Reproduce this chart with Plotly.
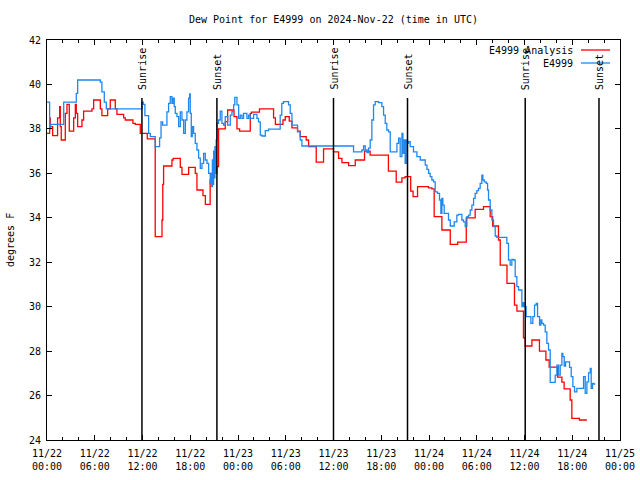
import pandas as pd
import plotly.graph_objects as go

base = pd.Timestamp("2024-11-22 00:00")

# Analysis (red) - hours since 11/22 00:00 UTC and dew point (F)
red_hours = [0.00,0.33,0.41,0.71,1.33,1.59,1.67,1.79,2.30,2.51,2.80,3.35,3.56,3.68,3.85,4.39,4.60,5.65,5.86,6.70,
             6.90,7.62,7.95,8.58,8.79,9.63,9.84,10.80,11.09,11.72,12.60,13.60,14.45,14.55,14.65,15.70,15.85,16.75,16.96,17.80,
             18.63,18.84,19.60,19.90,20.50,20.60,21.35,21.56,22.40,22.70,23.50,23.87,24.20,25.54,25.70,26.70,28.47,28.70,29.65,29.94,
             30.44,30.78,31.48,31.82,32.57,32.87,33.83,34.75,36.00,36.64,37.06,37.90,38.73,39.90,40.60,42.90,43.88,44.60,45.00,45.70,
             46.00,46.56,47.94,48.36,48.65,49.62,50.67,51.60,52.68,53.80,54.85,55.69,56.00,56.73,56.95,57.80,58.74,59.05,59.87,60.09,
             60.93,61.88,62.69,63.10,64.15,64.70,64.98,65.74,65.95,66.90,67.84]
red_values = [37.8,38.5,38.1,37.7,38.5,39.0,38.1,37.5,38.7,39.1,37.9,38.5,39.1,38.7,38.1,38.4,38.8,38.9,39.3,38.9,
              38.6,38.9,39.3,38.9,38.65,38.5,38.4,38.25,38.2,37.8,37.55,33.15,33.9,35.5,36.33,36.6,36.67,36.27,35.95,36.27,
              36.0,35.25,35.0,34.6,35.7,36.0,36.3,38.0,38.33,38.85,38.55,38.0,37.9,38.7,38.75,38.9,38.5,38.2,38.4,38.55,
              38.35,38.05,37.9,37.65,37.5,37.2,36.5,37.1,36.97,36.67,36.48,36.35,36.6,37.0,36.82,36.1,35.6,35.8,35.85,35.2,
              34.95,35.4,35.35,35.3,34.05,33.45,32.8,32.9,34.0,34.38,34.5,34.05,33.63,33.0,31.87,31.05,30.07,29.8,28.6,28.23,
              28.5,28.0,27.6,27.28,26.83,26.6,26.3,25.8,24.97,24.9,24.9]

# Observations (blue)
blue_hours = [0.00,0.33,0.45,2.10,3.68,3.85,6.70,6.90,7.20,7.45,11.93,12.10,12.30,12.77,12.98,13.60,14.15,14.33,14.53,15.07,
              15.28,15.49,15.70,15.82,15.99,16.12,16.33,16.54,16.75,16.96,17.17,17.38,17.58,17.79,17.92,18.00,18.13,18.25,18.42,18.63,
              18.84,19.05,19.26,19.47,19.68,19.89,20.10,20.31,20.51,20.60,20.70,20.78,20.86,20.94,21.02,21.10,21.18,21.26,21.35,21.56,
              21.77,21.98,22.19,22.40,22.70,23.03,23.24,23.45,23.60,23.87,24.08,24.29,24.50,24.70,25.12,25.33,25.54,25.96,26.38,26.58,
              26.80,27.00,27.43,27.84,29.30,29.50,29.72,30.35,30.56,30.78,31.48,31.82,32.03,38.52,39.57,39.78,39.99,40.20,40.40,40.61,
              40.82,41.03,41.24,41.66,42.08,42.29,42.50,42.70,42.92,43.13,43.97,44.18,44.38,44.60,44.72,44.89,45.00,45.14,45.30,45.43,
              45.64,46.05,46.48,46.90,47.53,47.74,47.95,48.15,48.36,48.57,48.78,49.07,49.32,49.49,49.62,49.74,49.91,50.45,50.67,51.17,
              51.50,51.71,52.13,52.34,52.55,52.76,52.97,53.18,53.39,53.60,53.80,54.01,54.22,54.43,54.64,54.77,54.94,55.19,55.36,55.48,
              55.69,55.90,56.11,56.32,56.53,57.78,57.99,58.20,58.41,58.62,58.83,59.04,59.25,59.67,59.80,59.96,60.21,60.80,61.05,61.26,
              61.47,61.64,61.89,62.06,62.18,62.39,62.60,62.81,63.02,63.23,63.86,64.07,64.28,64.49,64.70,64.82,64.99,65.16,65.66,65.87,
              66.08,66.29,66.58,67.42,67.63,67.84,68.05,68.26,68.38,68.55,68.68,68.89]
blue_values = [39.2,38.0,38.2,39.2,39.6,40.2,40.1,39.67,39.2,38.9,39.2,39.1,38.6,37.8,37.65,37.2,37.6,38.32,38.17,38.77,
               39.15,39.45,39.15,39.38,39.0,38.7,38.55,38.1,38.77,38.4,37.8,38.4,38.77,39.38,39.57,38.7,37.65,38.1,37.8,37.35,
               37.05,36.68,36.22,36.45,36.9,36.6,36.45,36.0,35.55,36.0,35.4,36.6,35.5,37.0,35.8,37.2,36.0,37.5,38.25,38.4,
               38.8,38.25,38.17,38.55,38.17,38.62,38.78,39.08,39.42,39.08,38.47,38.62,38.47,38.70,38.47,38.62,38.47,38.65,38.47,38.32,
               37.72,37.68,37.92,37.99,38.62,39.15,39.23,39.08,38.70,38.17,37.87,37.50,37.23,36.97,37.05,37.23,37.05,36.93,37.13,37.50,
               38.40,39.08,39.23,39.18,39.00,38.62,38.25,37.95,37.87,36.97,37.35,37.58,36.75,37.80,36.90,37.50,36.45,37.50,37.35,37.43,
               37.20,36.97,36.75,36.60,36.37,36.18,36.00,35.85,35.70,35.62,35.17,35.10,34.80,34.20,34.87,34.57,34.20,33.90,33.63,33.82,
               34.12,34.15,33.90,33.82,33.60,34.05,34.12,34.35,34.57,34.87,35.10,35.22,35.32,35.55,35.92,35.70,35.62,35.55,35.25,34.80,
               34.35,33.90,33.60,33.18,33.12,32.85,32.10,31.87,32.13,32.10,31.35,30.90,30.75,30.00,30.18,30.00,29.55,29.25,29.55,30.07,
               30.15,29.55,29.17,29.40,29.25,29.17,28.87,28.35,28.05,26.59,26.92,27.37,26.92,27.37,27.90,27.75,27.33,27.52,27.27,26.85,
               26.40,26.17,26.32,26.85,26.10,26.62,27.02,27.22,26.32,26.55,26.52,26.52]

# Sun events
event_hours = [11.93, 21.35, 36.00, 45.30, 60.09, 69.36]
event_labels = ["Sunrise", "Sunset", "Sunrise", "Sunset", "Sunrise", "Sunset"]

# Axis ticks
x_tick_hours = [0, 6, 12, 18, 24, 30, 36, 42, 48, 54, 60, 66, 72]
x_tick_text = ["11/22<br>00:00", "11/22<br>06:00", "11/22<br>12:00", "11/22<br>18:00",
               "11/23<br>00:00", "11/23<br>06:00", "11/23<br>12:00", "11/23<br>18:00",
               "11/24<br>00:00", "11/24<br>06:00", "11/24<br>12:00", "11/24<br>18:00",
               "11/25<br>00:00"]
x_minor_hours = list(range(0, 73, 2))
y_ticks = [24, 26, 28, 30, 32, 34, 36, 38, 40, 42]


def to_time(hours):
    return [base + pd.Timedelta(hours=h) for h in hours]


FONT = "DejaVu Sans Mono"
RED = "#ff0000"
BLUE = "#1e88f0"

fig = go.Figure()
fig.add_trace(go.Scatter(x=to_time(red_hours), y=red_values, mode="lines",
                         line=dict(color=RED, width=1.3, shape="hv"),
                         name="E4999 Analysis", showlegend=False))
fig.add_trace(go.Scatter(x=to_time(blue_hours), y=blue_values, mode="lines",
                         line=dict(color=BLUE, width=1.3, shape="hv"),
                         name="E4999", showlegend=False))

L, R, T, B = 47, 20, 40, 40
W, H = 640, 480
pw, ph = W - L - R, H - T - B

line_top = (H - B - 98) / ph
for h, lab in zip(event_hours, event_labels):
    t = base + pd.Timedelta(hours=h)
    fig.add_shape(type="line", xref="x", yref="paper", x0=t, x1=t, y0=0, y1=line_top,
                  line=dict(color="black", width=1.5))
    fig.add_annotation(x=t, xref="x", yref="paper", y=line_top + 6 / ph, text=lab,
                       textangle=-90, showarrow=False, xanchor="center", yanchor="bottom",
                       font=dict(family=FONT, size=10, color="black"))

# legend (gnuplot style: text then sample line)
leg = [("E4999 Analysis", RED, 50), ("E4999", BLUE, 63)]
for text, col, ypx in leg:
    yp = (H - B - ypx) / ph
    fig.add_annotation(x=(575 - L) / pw, y=yp, xref="paper", yref="paper", text=text,
                       showarrow=False, xanchor="right", yanchor="middle",
                       font=dict(family=FONT, size=10, color="black"))
    fig.add_shape(type="line", xref="paper", yref="paper", x0=(581 - L) / pw, x1=(610 - L) / pw,
                  y0=yp, y1=yp, line=dict(color=col, width=1.3))

# title and y title
fig.add_annotation(x=0.5, y=1 + (T - 19) / ph, xref="paper", yref="paper",
                   text="Dew Point for E4999 on 2024-Nov-22 (time in UTC)", showarrow=False,
                   xanchor="center", yanchor="middle", font=dict(family=FONT, size=10, color="black"))
fig.add_annotation(x=(10 - L) / pw, y=0.5, xref="paper", yref="paper", text="degrees F",
                   textangle=-90, showarrow=False, xanchor="center", yanchor="middle",
                   font=dict(family=FONT, size=10, color="black"))

fig.update_layout(
    width=W, height=H, margin=dict(l=L, r=R, t=T, b=B, autoexpand=False),
    paper_bgcolor="white", plot_bgcolor="white",
    font=dict(family=FONT, size=10, color="black"),
    showlegend=False,
)
fig.update_xaxes(
    type="date", range=[base, base + pd.Timedelta(hours=72)], automargin=False,
    tickmode="array", tickvals=to_time(x_tick_hours), ticktext=x_tick_text,
    ticks="inside", ticklen=5, tickcolor="black", tickwidth=1, ticklabelstandoff=4,
    minor=dict(tickmode="array", tickvals=to_time(x_minor_hours), ticks="inside",
               ticklen=3, tickcolor="black", tickwidth=1, showgrid=False),
    showline=True, linecolor="black", linewidth=1, mirror="allticks",
    showgrid=False, zeroline=False, tickfont=dict(family=FONT, size=10, color="black"),
)
fig.update_yaxes(
    range=[24, 42], tickmode="array", tickvals=y_ticks, automargin=False,
    ticks="inside", ticklen=5, tickcolor="black", tickwidth=1, ticklabelstandoff=3,
    showline=True, linecolor="black", linewidth=1, mirror="allticks",
    showgrid=False, zeroline=False, tickfont=dict(family=FONT, size=10, color="black"),
)

fig.write_html("out.html")
